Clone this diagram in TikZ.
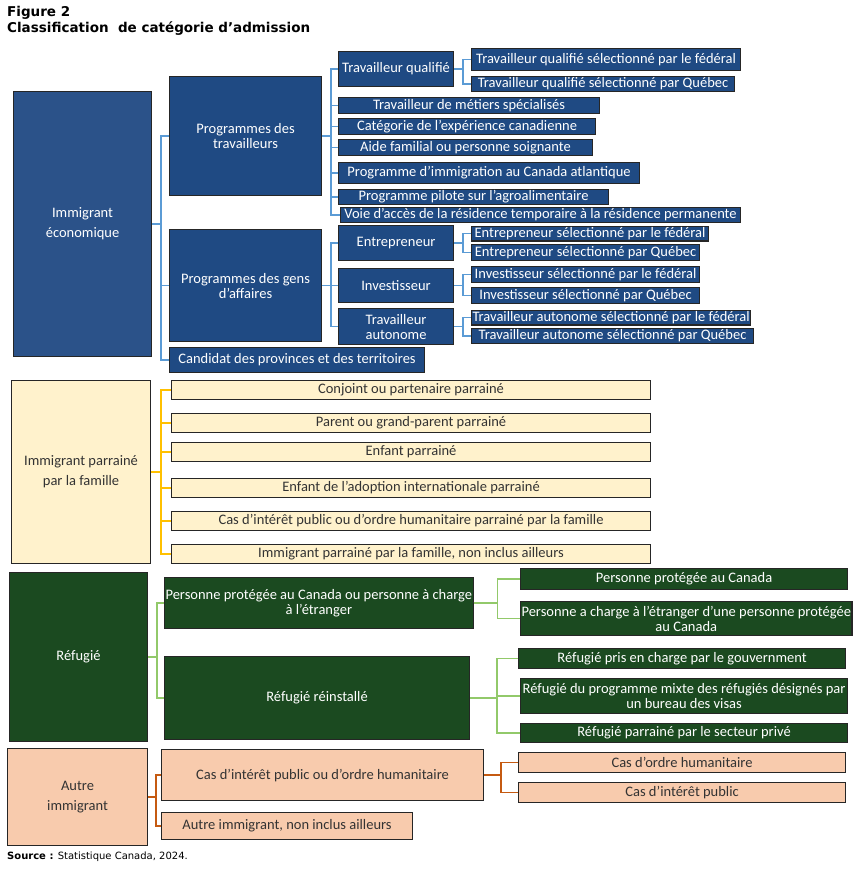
\documentclass[tikz,border=0pt]{standalone}
\usepackage{fontspec}
\setmainfont{Carlito}
\newfontfamily\verd{DejaVu Sans}
\usepackage{tikz}
\usetikzlibrary{positioning}

\definecolor{ecoA}{HTML}{2B5289}
\definecolor{ecoB}{HTML}{1F4A83}
\definecolor{ecoL}{HTML}{5B9BD5}
\definecolor{famF}{HTML}{FFF2CC}
\definecolor{famL}{HTML}{FFC000}
\definecolor{refF}{HTML}{1B4A20}
\definecolor{refL}{HTML}{92C96A}
\definecolor{autF}{HTML}{F8CBAD}
\definecolor{autL}{HTML}{C55A11}

\begin{document}
\begin{tikzpicture}[x=1pt, y=-1pt, font=\fontsize{14.5}{15}\selectfont]
            % Set primary styles
            \tikzset{
                box/.style={
                        rectangle,
                        draw=black!85,
                        line width=1.1pt,
                        anchor=north west,
                        inner sep=1pt,
                        align=center
                    },
                sz/.style 2 args={
                        minimum width=#1,
                        minimum height=#2
                    },
                eco/.style={box, fill=ecoB, text=white},
                fam/.style={box, fill=famF, text=black!80},
                ref/.style={box, fill=refF, text=white},
                aut/.style={box, fill=autF, text=black!80},
                ecoLink/.style={color=ecoL, line width=1.4pt},
                famLink/.style={color=famL, line width=1.4pt},
                refLink/.style={color=refL, line width=1.4pt},
                autLink/.style={color=autL, line width=1.4pt}
            }
            \useasboundingbox (0,0) rectangle (864,869);
            % Title
            \node[anchor=north west, inner sep=0, align=left, font=\verd\bfseries\fontsize{13.5}{16}\selectfont] (title) at (7,6)
                {Figure 2\\Classification\ \ de catégorie d’admission};
            % Immigrant economique
            \node[eco, fill=ecoA, sz={138}{265}] (eco) at (13,91) {Immigrant\\[5pt]économique};
            \node[eco, sz={152}{119}] (trav) at (169,76) {Programmes des\\travailleurs};
            \node[eco, sz={152}{112}] (aff) at (169,229) {Programmes des gens\\d’affaires};
            \node[eco, sz={255}{25}] (cand) at (169,347) {Candidat des provinces et des territoires};
            \node[eco, sz={115}{35}] (tq) at (338,51) {Travailleur qualifié};
            \node[eco, sz={261}{16}] (tms) at (338,97) {Travailleur de métiers spécialisés};
            \node[eco, sz={257}{16}] (cec) at (338,118) {Catégorie de l'expérience canadienne};
            \node[eco, sz={254}{16}] (aide) at (338,139) {Aide familial ou personne soignante};
            \node[eco, sz={301}{21}] (pica) at (338,162) {Programme d’immigration au Canada atlantique};
            \node[eco, sz={270}{12}] (agro) at (338,189) {Programme pilote sur l’agroalimentaire};
            \node[eco, sz={400}{12}] (voie) at (340,207) {Voie d’accès de la résidence temporaire à la résidence permanente};
            \node[eco, sz={115}{35}] (ent) at (338,225) {Entrepreneur};
            \node[eco, sz={115}{34}] (inv) at (338,268) {Investisseur};
            \node[eco, sz={115}{36}] (auto) at (338,308) {Travailleur\\autonome};
            \node[eco, sz={269}{22}] (tqf) at (471,48) {Travailleur qualifié sélectionné par le fédéral};
            \node[eco, sz={263}{15}] (tqq) at (471,76) {Travailleur qualifié sélectionné par Québec};
            \node[eco, sz={237}{12}] (entf) at (471,226) {Entrepreneur sélectionné par le fédéral};
            \node[eco, sz={228}{16}] (entq) at (471,244) {Entrepreneur sélectionné par Québec};
            \node[eco, sz={228}{16}] (invf) at (471,266) {Investisseur sélectionné par le fédéral};
            \node[eco, sz={228}{16}] (invq) at (471,287) {Investisseur sélectionné par Québec};
            \node[eco, sz={279}{12}] (autf) at (471,310) {Travailleur autonome sélectionné par le fédéral};
            \node[eco, sz={282}{15}] (autq) at (471,328) {Travailleur autonome sélectionné par Québec};
            % Immigrant parraine par la famille
            \node[fam, sz={139}{183}] (fam) at (11,380) {Immigrant parrainé\\[5pt]par la famille};
            \node[fam, sz={479}{19}] (conj) at (171,380) {Conjoint ou partenaire parrainé};
            \node[fam, sz={479}{19}] (par) at (171,413) {Parent ou grand-parent parrainé};
            \node[fam, sz={479}{19}] (enf) at (171,442) {Enfant parrainé};
            \node[fam, sz={479}{19}] (adop) at (171,478) {Enfant de l'adoption internationale parrainé};
            \node[fam, sz={479}{19}] (cas) at (171,511) {Cas d'intérêt public ou d'ordre humanitaire parrainé par la famille};
            \node[fam, sz={479}{19}] (nia) at (171,544) {Immigrant parrainé par la famille, non inclus ailleurs};
            % Refugie
            \node[ref, sz={138}{169}] (ref) at (9,572) {Réfugié};
            \node[ref, sz={308}{51}] (prot) at (164,577) {Personne protégée au Canada ou personne à charge\\à l'étranger};
            \node[ref, sz={305}{83}] (rein) at (164,656) {Réfugié réinstallé};
            \node[ref, sz={327}{21}] (ppc) at (520,568) {Personne protégée au Canada};
            \node[ref, sz={327}{34}] (pac) at (520,601) {Personne a charge à l'étranger d'une personne protégée\\au Canada};
            \node[ref, sz={327}{20}] (gouv) at (518,648) {Réfugié pris en charge par le gouvernment};
            \node[ref, sz={327}{35}] (mixte) at (520,678) {Réfugié du programme mixte des réfugiés désignés par\\un bureau des visas};
            \node[ref, sz={327}{19}] (priv) at (520,723) {Réfugié parrainé par le secteur privé};
            % Autre immigrant
            \node[aut, sz={140}{97}] (aut) at (7,748) {Autre\\[5pt]immigrant};
            \node[aut, sz={322}{51}] (hum) at (161,749) {Cas d'intérêt public ou d'ordre humanitaire};
            \node[aut, sz={251}{27}] (autnia) at (161,812) {Autre immigrant, non inclus ailleurs};
            \node[aut, sz={327}{20}] (ordre) at (518,752) {Cas d'ordre humanitaire};
            \node[aut, sz={327}{20}] (pub) at (518,782) {Cas d'intérêt public};
            % Source
            \node[anchor=north west, inner sep=0, font=\verd\fontsize{10}{11}\selectfont] (src) at (7,852)
                {\textbf{Source :} Statistique Canada, 2024.};
            % Placing links
            \foreach \c in {trav,aff,cand} \draw[ecoLink] (eco.east) -- ++(9,0) |- (\c.west);
            \foreach \c in {tq,tms,cec,aide,pica,agro,voie} \draw[ecoLink] (trav.east) -- ++(9,0) |- (\c.west);
            \foreach \c in {ent,inv,auto} \draw[ecoLink] (aff.east) -- ++(9,0) |- (\c.west);
            \foreach \c in {tqf,tqq} \draw[ecoLink] (tq.east) -- ++(9,0) |- (\c.west);
            \foreach \c in {entf,entq} \draw[ecoLink] (ent.east) -- ++(9,0) |- (\c.west);
            \foreach \c in {invf,invq} \draw[ecoLink] (inv.east) -- ++(9,0) |- (\c.west);
            \foreach \c in {autf,autq} \draw[ecoLink] (auto.east) -- ++(9,0) |- (\c.west);
            \foreach \c in {conj,par,enf,adop,cas,nia} \draw[famLink] (fam.east) -- ++(10,0) |- (\c.west);
            \foreach \c in {prot,rein} \draw[refLink] (ref.east) -- ++(9,0) |- (\c.west);
            \foreach \c in {ppc,pac} \draw[refLink] (prot.east) -- ++(24,0) |- (\c.west);
            \foreach \c in {gouv,mixte,priv} \draw[refLink] (rein.east) -- ++(27,0) |- (\c.west);
            \foreach \c in {hum,autnia} \draw[autLink] (aut.east) -- ++(8,0) |- (\c.west);
            \foreach \c in {ordre,pub} \draw[autLink] (hum.east) -- ++(17,0) |- (\c.west);
        \end{tikzpicture}
\end{document}
